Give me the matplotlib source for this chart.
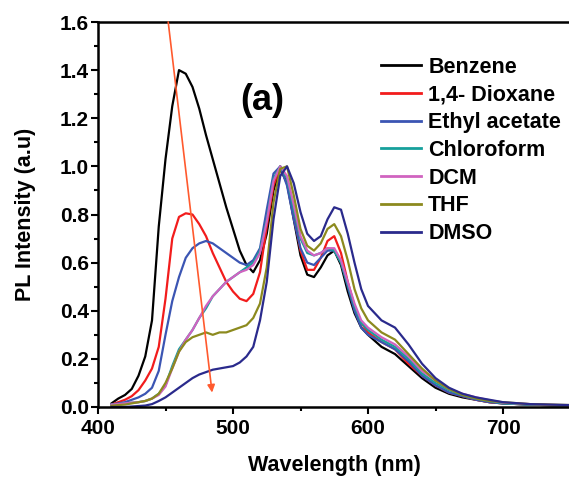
import matplotlib
matplotlib.use("Agg")
import matplotlib.pyplot as plt
from matplotlib.ticker import MultipleLocator, FormatStrFormatter

plt.rcParams['font.family'] = ['Liberation Sans', 'DejaVu Sans']
plt.rcParams['font.weight'] = 'bold'

wavelength = [410, 415, 420, 425, 430, 435, 440, 445, 450, 455, 460, 465, 470, 475,
              480, 485, 490, 495, 500, 505, 510, 515, 520, 525, 530, 535, 540, 545,
              550, 555, 560, 565, 570, 575, 580, 585, 590, 595, 600, 610, 620, 630,
              640, 650, 660, 670, 680, 690, 700, 720, 750]

benzene = [0.015, 0.035, 0.05, 0.075, 0.13, 0.21, 0.36, 0.75, 1.03, 1.25, 1.40, 1.385, 1.33, 1.24,
           1.13, 1.03, 0.93, 0.83, 0.74, 0.65, 0.59, 0.56, 0.61, 0.72, 0.90, 0.99, 0.93, 0.78,
           0.63, 0.55, 0.54, 0.58, 0.63, 0.65, 0.59, 0.48, 0.39, 0.33, 0.30, 0.25, 0.22, 0.17,
           0.12, 0.08, 0.055, 0.04, 0.03, 0.02, 0.015, 0.01, 0.005]

dioxane = [0.01, 0.02, 0.03, 0.045, 0.07, 0.11, 0.16, 0.25, 0.45, 0.70, 0.79, 0.805, 0.80, 0.76,
           0.71, 0.64, 0.58, 0.52, 0.48, 0.45, 0.44, 0.47, 0.56, 0.75, 0.92, 1.00, 0.95, 0.80,
           0.65, 0.57, 0.57, 0.62, 0.69, 0.71, 0.64, 0.52, 0.42, 0.35, 0.31, 0.27, 0.24, 0.18,
           0.13, 0.09, 0.06, 0.045, 0.03, 0.02, 0.015, 0.01, 0.005]

ethyl_acetate = [0.01, 0.015, 0.02, 0.03, 0.04, 0.055, 0.08, 0.15, 0.30, 0.44, 0.54, 0.62, 0.66, 0.68,
                 0.69, 0.68, 0.66, 0.64, 0.62, 0.60, 0.59, 0.61, 0.66, 0.82, 0.97, 1.00, 0.92, 0.78,
                 0.66, 0.60, 0.59, 0.62, 0.65, 0.65, 0.60, 0.50, 0.40, 0.33, 0.30, 0.27, 0.24, 0.19,
                 0.13, 0.09, 0.06, 0.045, 0.03, 0.02, 0.015, 0.01, 0.005]

chloroform = [0.01, 0.012, 0.015, 0.018, 0.02, 0.025, 0.035, 0.055, 0.09, 0.17, 0.24, 0.28, 0.32, 0.37,
              0.41, 0.46, 0.49, 0.52, 0.54, 0.56, 0.58, 0.60, 0.65, 0.78, 0.95, 1.00, 0.95, 0.82,
              0.70, 0.64, 0.63, 0.64, 0.66, 0.65, 0.60, 0.51, 0.42, 0.35, 0.32, 0.28, 0.25, 0.20,
              0.14, 0.10, 0.07, 0.05, 0.035, 0.025, 0.015, 0.01, 0.005]

dcm = [0.01, 0.012, 0.015, 0.018, 0.02, 0.025, 0.035, 0.05, 0.085, 0.16, 0.23, 0.28, 0.32, 0.37,
       0.42, 0.46, 0.49, 0.52, 0.54, 0.56, 0.57, 0.59, 0.64, 0.77, 0.94, 1.00, 0.96, 0.84,
       0.71, 0.65, 0.63, 0.64, 0.66, 0.66, 0.61, 0.52, 0.43, 0.36, 0.33, 0.29, 0.26, 0.21,
       0.15, 0.11, 0.075, 0.055, 0.04, 0.028, 0.018, 0.012, 0.006]

thf = [0.005, 0.008, 0.01, 0.015, 0.02, 0.025, 0.035, 0.055, 0.10, 0.16, 0.23, 0.27, 0.29, 0.30,
       0.31, 0.30, 0.31, 0.31, 0.32, 0.33, 0.34, 0.37, 0.43, 0.58, 0.85, 0.99, 1.00, 0.88,
       0.74, 0.67, 0.65, 0.68, 0.74, 0.76, 0.71, 0.61, 0.49, 0.41, 0.36, 0.31, 0.28, 0.22,
       0.16, 0.11, 0.075, 0.05, 0.035, 0.025, 0.02, 0.012, 0.008]

dmso = [0.0, 0.0, 0.0, 0.002, 0.004, 0.006, 0.012, 0.025, 0.04, 0.06, 0.08, 0.10, 0.12, 0.135,
        0.145, 0.155, 0.16, 0.165, 0.17, 0.185, 0.21, 0.25, 0.36, 0.52, 0.78, 0.96, 1.00, 0.93,
        0.81, 0.72, 0.69, 0.71, 0.78, 0.83, 0.82, 0.72, 0.60, 0.49, 0.42, 0.36, 0.33, 0.26,
        0.18, 0.12, 0.08, 0.055, 0.04, 0.03, 0.02, 0.012, 0.008]

labels = ['Benzene', '1,4- Dioxane', 'Ethyl acetate', 'Chloroform', 'DCM', 'THF', 'DMSO']
series = [benzene, dioxane, ethyl_acetate, chloroform, dcm, thf, dmso]
colors = ['#000000', '#f21c1c', '#3b55b3', '#16a09c', '#d063c0', '#8c8a1e', '#2a2a8c']

fig = plt.figure(figsize=(5.69, 4.79), dpi=100)
ax = fig.add_axes([98/569, 1-407/479, (570.5-98)/569, (407-22)/479])

for ys, lab, c in zip(series, labels, colors):
    ax.plot(wavelength, ys, color=c, lw=1.6, label=lab)

ax.set_xlim(400, 750)
ax.set_ylim(0, 1.6)
ax.xaxis.set_major_locator(MultipleLocator(100))
ax.xaxis.set_minor_locator(MultipleLocator(50))
ax.yaxis.set_major_locator(MultipleLocator(0.2))
ax.yaxis.set_minor_locator(MultipleLocator(0.1))
ax.yaxis.set_major_formatter(FormatStrFormatter('%.1f'))
ax.tick_params(which='major', direction='out', length=5, width=1.5, labelsize=15, pad=1.5)
ax.tick_params(which='minor', direction='out', length=3, width=1.5)
ax.tick_params(axis='x', which='major', pad=4)
for s in ['left', 'bottom', 'top']:
    ax.spines[s].set_linewidth(1.8)
ax.spines['right'].set_visible(False)
for lbl in ax.get_xticklabels() + ax.get_yticklabels():
    lbl.set_fontweight('bold')

ax.set_xlabel('Wavelength (nm)', fontsize=15.5, fontweight='bold', labelpad=12)
ax.set_ylabel('PL Intensity (a.u)', fontsize=15.5, fontweight='bold', labelpad=17)

ax.annotate('', xy=(484.5, 0.06), xytext=(452, 1.6),
            arrowprops=dict(arrowstyle='-|>', color='#ff5a2e', lw=1.2,
                            mutation_scale=11, shrinkA=0, shrinkB=0))

ax.text(521.5, 1.275, '(a)', fontsize=26, fontweight='bold', ha='center', va='center')

leg = fig.legend(loc='upper left', bbox_to_anchor=(381/569, 1-57/479), frameon=False,
                 fontsize=15.5, handlelength=1.86, handletextpad=0.33, labelspacing=0.31,
                 borderpad=0, borderaxespad=0)
for t in leg.get_texts():
    t.set_fontweight('bold')
for h in leg.get_lines():
    h.set_linewidth(2.0)

fig.savefig('out.png', dpi=100)
